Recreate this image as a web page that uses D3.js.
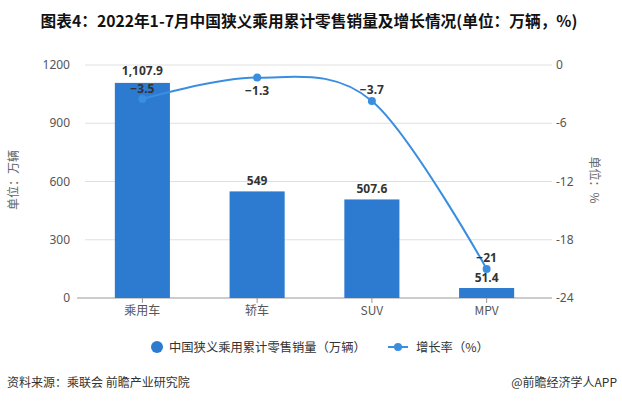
<!DOCTYPE html>
<html><head><meta charset="utf-8">
<script src="https://cdn.jsdelivr.net/npm/d3@7"></script>
<style>body{margin:0;background:#fff}svg{display:block}text{font-family:"Noto Sans CJK SC","Noto Sans",sans-serif}.num{font-family:"Noto Sans","DejaVu Sans",sans-serif}</style>
</head><body>
<svg id="c" width="622" height="401"></svg>
<script>
const categories = ["乘用车","轿车","SUV","MPV"];
const sales = [1107.9, 549, 507.6, 51.4];
const growth = [-3.5, -1.3, -3.7, -21];
const salesLabels = ["1,107.9","549","507.6","51.4"];
const growthLabels = ["−3.5","−1.3","−3.7","−21"];
const leftTicks = [0,300,600,900,1200];
const rightTicks = [0,-6,-12,-18,-24];

const svg = d3.select("#c");
const L = 85, R = 544, T = 65, B = 298;
const x = d3.scaleBand().domain(categories).range([L,R]).paddingInner(0.52).paddingOuter(0.26);
const y = d3.scaleLinear().domain([0,1200]).range([B,T]);
const y2 = d3.scaleLinear().domain([-24,0]).range([B,T]);
const cx = d => x(d) + x.bandwidth()/2;

svg.append("text").attr("x",309).attr("y",27).attr("text-anchor","middle")
  .attr("font-size",15.7).attr("font-weight","bold").attr("fill","#111")
  .text("图表4：2022年1-7月中国狭义乘用累计零售销量及增长情况(单位：万辆，%)");

// grid
svg.append("g").selectAll("line").data(leftTicks.filter(d=>d>0)).join("line")
  .attr("x1",L).attr("x2",R+8).attr("y1",d=>y(d)).attr("y2",d=>y(d))
  .attr("stroke","#e0e0e0");
// axis labels
svg.append("g").selectAll("text").data(leftTicks).join("text").attr("class","num")
  .attr("x",70).attr("y",d=>y(d)+4).attr("text-anchor","end")
  .attr("font-size",12).attr("fill","#555").text(d=>d);
svg.append("g").selectAll("text").data(rightTicks).join("text").attr("class","num")
  .attr("x",556).attr("y",d=>y2(d)+4).attr("text-anchor","start")
  .attr("font-size",12).attr("fill","#555").text(d=>d);
// baseline
svg.append("line").attr("x1",L-8).attr("x2",R+8).attr("y1",B).attr("y2",B).attr("stroke","#999");
svg.append("g").selectAll("line").data(categories).join("line")
  .attr("x1",cx).attr("x2",cx).attr("y1",B).attr("y2",B+5).attr("stroke","#999");
svg.append("g").selectAll("text").data(categories).join("text")
  .attr("x",cx).attr("y",B+17).attr("text-anchor","middle")
  .attr("font-size",12).attr("fill","#555").text(d=>d);

// axis titles
svg.append("text").attr("transform","translate(18,180) rotate(-90)").attr("text-anchor","middle")
  .attr("font-size",12).attr("fill","#666").text("单位：万辆");
svg.append("text").attr("transform","translate(590,180) rotate(90)").attr("text-anchor","middle")
  .attr("font-size",12).attr("fill","#666").text("单位：%");

// bars
const barColor = "#2c7bd1";
svg.append("g").selectAll("rect").data(categories).join("rect")
  .attr("x",d=>x(d)).attr("width",x.bandwidth())
  .attr("y",(d,i)=>y(sales[i])).attr("height",(d,i)=>B-y(sales[i]))
  .attr("fill",barColor);
svg.append("g").selectAll("text").data(categories).join("text").attr("class","num")
  .attr("x",cx).attr("y",(d,i)=>y(sales[i])-(i===0?8:6)).attr("text-anchor","middle")
  .attr("font-size",12).attr("font-weight","bold").attr("fill","#333")
  .text((d,i)=>salesLabels[i]);

// line
const lineColor = "#3a8ee0";
const pts = categories.map((c,i)=>[cx(c), y2(growth[i])]);
svg.append("path").attr("d", d3.line().curve(d3.curveCardinal)(pts))
  .attr("fill","none").attr("stroke",lineColor).attr("stroke-width",2);
svg.append("g").selectAll("circle").data(pts).join("circle")
  .attr("cx",d=>d[0]).attr("cy",d=>d[1]).attr("r",4).attr("fill",lineColor);
svg.append("g").selectAll("text").data(pts).join("text").attr("class","num")
  .attr("x",d=>d[0]).attr("y",(d,i)=> i===1 ? d[1]+17 : d[1]-(i===0?6:7)).attr("text-anchor","middle")
  .attr("font-size",12).attr("font-weight","bold").attr("fill","#333")
  .text((d,i)=>growthLabels[i]);

// legend
svg.append("circle").attr("cx",157).attr("cy",347).attr("r",6).attr("fill",barColor);
svg.append("text").attr("x",169).attr("y",351.5).attr("font-size",12.3).attr("fill","#333")
  .text("中国狭义乘用累计零售销量（万辆）");
svg.append("line").attr("x1",388).attr("x2",408).attr("y1",347).attr("y2",347).attr("stroke",lineColor).attr("stroke-width",2);
svg.append("circle").attr("cx",398).attr("cy",347).attr("r",4).attr("fill",lineColor);
svg.append("text").attr("x",416).attr("y",351.5).attr("font-size",12.3).attr("fill","#333")
  .text("增长率（%）");

// footer
svg.append("text").attr("x",7).attr("y",387).attr("font-size",12).attr("fill","#333")
  .text("资料来源：乘联会 前瞻产业研究院");
svg.append("text").attr("x",617).attr("y",387).attr("text-anchor","end").attr("font-size",12).attr("fill","#333")
  .text("@前瞻经济学人APP");
</script>
</body></html>
